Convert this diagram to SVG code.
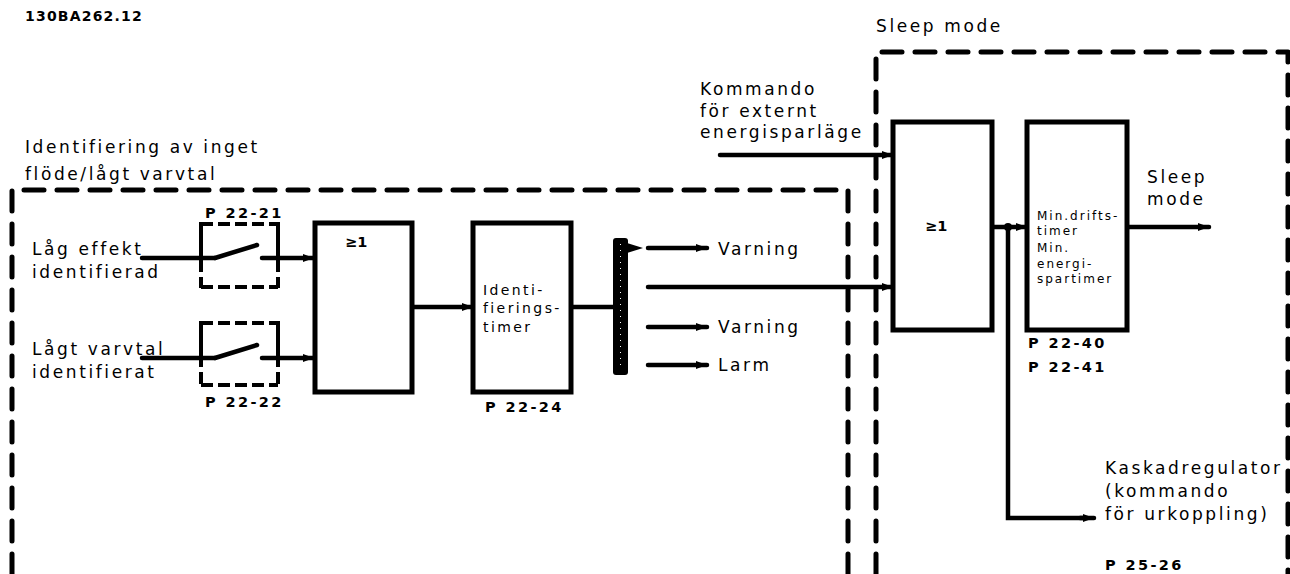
<svg xmlns="http://www.w3.org/2000/svg" width="1290" height="574" viewBox="0 0 1290 574">
<style>
  .t{font-family:"DejaVu Sans","Liberation Sans",sans-serif;font-size:17px;letter-spacing:2.6px;fill:#000}
  .s{font-family:"DejaVu Sans","Liberation Sans",sans-serif;font-size:14px;letter-spacing:2.4px;fill:#000}
  .xs{font-family:"DejaVu Sans","Liberation Sans",sans-serif;font-size:12px;letter-spacing:2px;fill:#000}
  .p{font-family:"DejaVu Sans","Liberation Sans",sans-serif;font-size:14.5px;font-weight:bold;letter-spacing:2.4px;fill:#000}
  .frame{fill:none;stroke:#000;stroke-width:5;stroke-linecap:round;stroke-linejoin:round;stroke-dasharray:20 13}
  .box{fill:#fff;stroke:#000;stroke-width:5}
  .sw{fill:none;stroke:#000;stroke-width:4}
  .swd{fill:none;stroke:#000;stroke-width:4;stroke-dasharray:12 5}
  .w{fill:none;stroke:#000;stroke-width:4.5;stroke-linecap:round}
  .wa{fill:none;stroke:#000;stroke-width:4.5;stroke-linecap:round;marker-end:url(#ah)}
</style>
<defs>
  <marker id="ah" markerUnits="userSpaceOnUse" markerWidth="12" markerHeight="10" refX="11" refY="5" orient="auto">
    <path d="M0,1 L11,5 L0,9 z" fill="#000"/>
  </marker>
</defs>
<rect width="1290" height="574" fill="#fff"/>

<text x="25" y="21" class="p" style="font-size:14px;letter-spacing:1.2px">130BA262.12</text>

<g id="frame-identifiering">
  <path class="frame" d="M12,574 L12,190 L848,190 L848,574"/>
  <text class="t" x="25" y="153">Identifiering av inget</text>
  <text class="t" x="25" y="180">flöde/lågt varvtal</text>
</g>

<g id="frame-sleep">
  <path class="frame" d="M876,574 L876,52 L1288,52 L1288,574"/>
  <text class="t" x="876" y="32">Sleep mode</text>
</g>

<g id="connectors">
  <line class="w" x1="142" y1="258" x2="215" y2="258"/>
  <line class="w" x1="215" y1="258" x2="257" y2="245"/>
  <line class="wa" x1="262" y1="258" x2="314" y2="258"/>
  <line class="w" x1="142" y1="358" x2="215" y2="358"/>
  <line class="w" x1="215" y1="358" x2="257" y2="345"/>
  <line class="wa" x1="262" y1="358" x2="314" y2="358"/>
  <line class="wa" x1="412" y1="307" x2="473" y2="307"/>
  <line class="w" x1="572" y1="307" x2="613" y2="307"/>
  <line class="wa" x1="648" y1="248" x2="707" y2="248"/>
  <line class="wa" x1="648" y1="287" x2="893" y2="287"/>
  <line class="wa" x1="648" y1="327" x2="707" y2="327"/>
  <line class="wa" x1="648" y1="365" x2="707" y2="365"/>
  <line class="wa" x1="720" y1="155" x2="893" y2="155"/>
  <line class="wa" x1="992" y1="227" x2="1027" y2="227"/>
  <circle cx="1008" cy="227" r="4" fill="#000"/>
  <path class="w" d="M1008,227 L1008,518 L1085,518"/>
  <line class="wa" x1="1080" y1="518" x2="1094" y2="518"/>
  <line class="wa" x1="1127" y1="227" x2="1209" y2="227"/>
</g>

<g id="input-lag-effekt">
  <text class="t" x="32" y="255">Låg effekt</text>
  <text class="t" x="32" y="278">identifierad</text>
</g>
<g id="input-lagt-varvtal">
  <text class="t" x="32" y="355">Lågt varvtal</text>
  <text class="t" x="32" y="378">identifierat</text>
</g>

<g id="switch-22-21">
  <line class="swd" x1="201" y1="224" x2="278" y2="224"/>
  <line class="sw" x1="201" y1="222" x2="201" y2="260"/>
  <line class="sw" x1="278" y1="222" x2="278" y2="260"/>
  <line class="swd" x1="201" y1="260" x2="201" y2="288"/>
  <line class="swd" x1="278" y1="260" x2="278" y2="288"/>
  <line class="swd" x1="201" y1="287" x2="278" y2="287"/>
  <text class="p" x="205" y="218">P 22-21</text>
</g>

<g id="switch-22-22">
  <line class="swd" x1="201" y1="323" x2="278" y2="323"/>
  <line class="sw" x1="201" y1="321" x2="201" y2="355"/>
  <line class="sw" x1="278" y1="321" x2="278" y2="355"/>
  <line class="swd" x1="201" y1="355" x2="201" y2="386"/>
  <line class="swd" x1="278" y1="355" x2="278" y2="386"/>
  <line class="swd" x1="201" y1="385" x2="278" y2="385"/>
  <text class="p" x="205" y="407">P 22-22</text>
</g>

<g id="gate-or-1">
  <rect class="box" x="315" y="223" width="97" height="169"/>
  <text class="p" x="345" y="247" style="letter-spacing:0">≥1</text>
</g>

<g id="timer-22-24">
  <rect class="box" x="473" y="223" width="98" height="169"/>
  <text class="s" x="483" y="295">Identi-</text>
  <text class="s" x="483" y="313">fierings-</text>
  <text class="s" x="483" y="332">timer</text>
  <text class="p" x="485" y="412">P 22-24</text>
</g>

<g id="selector">
  <rect x="613" y="238" width="15" height="137" rx="3" fill="#000"/>
  <line x1="620.5" y1="244" x2="620.5" y2="370" stroke="#fff" stroke-width="1" stroke-dasharray="1 5"/>
  <path d="M627,243 L643,248 L627,253 z" fill="#000"/>
</g>

<g id="outputs">
  <text class="t" x="718" y="255">Varning</text>
  <text class="t" x="718" y="333">Varning</text>
  <text class="t" x="718" y="371">Larm</text>
</g>

<g id="external-command">
  <text class="t" x="700" y="95">Kommando</text>
  <text class="t" x="700" y="117">för externt</text>
  <text class="t" x="700" y="138">energisparläge</text>
</g>

<g id="gate-or-2">
  <rect class="box" x="893" y="122" width="99" height="208"/>
  <text class="p" x="925" y="231" style="letter-spacing:0">≥1</text>
</g>

<g id="timer-22-40">
  <rect class="box" x="1027" y="122" width="100" height="208"/>
  <text class="xs" x="1037" y="220">Min.drifts-</text>
  <text class="xs" x="1037" y="235">timer</text>
  <text class="xs" x="1037" y="252">Min.</text>
  <text class="xs" x="1037" y="268">energi-</text>
  <text class="xs" x="1037" y="283">spartimer</text>
  <text class="p" x="1028" y="348">P 22-40</text>
  <text class="p" x="1028" y="372">P 22-41</text>
</g>

<g id="sleep-output">
  <text class="t" x="1147" y="183">Sleep</text>
  <text class="t" x="1147" y="205">mode</text>
</g>

<g id="kaskad">
  <text class="t" x="1105" y="474">Kaskadregulator</text>
  <text class="t" x="1105" y="497">(kommando</text>
  <text class="t" x="1105" y="520">för urkoppling)</text>
  <text class="p" x="1105" y="570">P 25-26</text>
</g>
</svg>
